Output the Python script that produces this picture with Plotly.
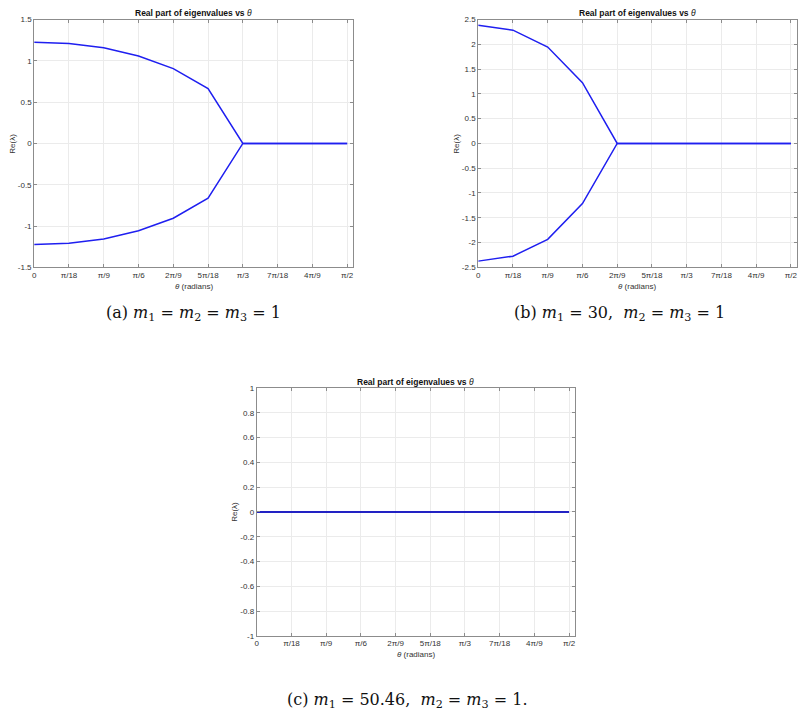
import numpy as np
import plotly.graph_objects as go

W, H = 805, 711

# theta grid (multiples of pi/18 from 0 to pi/2)
theta = [k * np.pi / 18 for k in range(10)]
tick_text = ["0", "π/18", "π/9", "π/6", "2π/9", "5π/18", "π/3", "7π/18", "4π/9", "π/2"]

# (a) m1 = m2 = m3 = 1
a_upper = [1.225, 1.208, 1.157, 1.058, 0.906, 0.663, 0.0, 0.0, 0.0, 0.0]
a_lower = [-1.225, -1.208, -1.157, -1.058, -0.906, -0.663, 0.0, 0.0, 0.0, 0.0]
# (b) m1 = 30, m2 = m3 = 1
b_upper = [2.385, 2.285, 1.945, 1.225, 0.0, 0.0, 0.0, 0.0, 0.0, 0.0]
b_lower = [-2.375, -2.275, -1.935, -1.215, 0.0, 0.0, 0.0, 0.0, 0.0, 0.0]
# (c) m1 = 50.46, m2 = m3 = 1
c_upper = [0.0] * 10
c_lower = [0.0] * 10

a_yticks = [-1.5, -1, -0.5, 0, 0.5, 1, 1.5]
a_ylabels = ["-1.5", "-1", "-0.5", "0", "0.5", "1", "1.5"]
b_yticks = [-2.5, -2, -1.5, -1, -0.5, 0, 0.5, 1, 1.5, 2, 2.5]
b_ylabels = ["-2.5", "-2", "-1.5", "-1", "-0.5", "0", "0.5", "1", "1.5", "2", "2.5"]
c_yticks = [-1, -0.8, -0.6, -0.4, -0.2, 0, 0.2, 0.4, 0.6, 0.8, 1]
c_ylabels = ["-1", "-0.8", "-0.6", "-0.4", "-0.2", "0", "0.2", "0.4", "0.6", "0.8", "1"]

captions = [
    "(a) <i>m</i><sub>1</sub> = <i>m</i><sub>2</sub> = <i>m</i><sub>3</sub> = 1",
    "(b) <i>m</i><sub>1</sub> = 30,  <i>m</i><sub>2</sub> = <i>m</i><sub>3</sub> = 1",
    "(c) <i>m</i><sub>1</sub> = 50.46,  <i>m</i><sub>2</sub> = <i>m</i><sub>3</sub> = 1.",
]

# pixel boxes of the three axes: left, right, top, bottom
boxes = [(32.3, 352.3, 15.7, 266.7), (478.0, 797.7, 15.7, 266.7), (255.7, 575.0, 389.0, 640.0)]
caption_pos = [(192, 313), (620, 313), (407, 705)]

SANS = "Liberation Sans, Arial, sans-serif"
SERIF = "DejaVu Serif, serif"
AX = "#8c8c8c"
LINE = "#1f1ff0"

fig = go.Figure()
layout = dict(width=W, height=H, margin=dict(l=0, r=0, t=0, b=0),
              paper_bgcolor="white", plot_bgcolor="white", showlegend=False)
annotations = []

data = [(a_upper, a_lower, a_yticks, a_ylabels, [-1.5, 1.5]),
        (b_upper, b_lower, b_yticks, b_ylabels, [-2.5, 2.5]),
        (c_upper, c_lower, c_yticks, c_ylabels, [-1, 1])]

for i, ((up, lo, yt, yl, yr), (l, r, t, b)) in enumerate(zip(data, boxes)):
    n = "" if i == 0 else str(i + 1)
    xa, ya = "x" + n, "y" + n
    col = LINE if i < 2 else "#1414c0"
    for ys in (up, lo):
        fig.add_trace(go.Scatter(x=theta, y=ys, mode="lines", xaxis=xa, yaxis=ya,
                                 line=dict(color=col, width=1.5), hoverinfo="skip"))
    fs = 8
    layout["xaxis" + n] = dict(domain=[l / W, r / W], anchor=ya, range=[0, 1.6],
                               tickvals=theta, ticktext=tick_text, ticks="inside", ticklen=3,
                               tickcolor=AX, showline=True, linecolor=AX, linewidth=1,
                               mirror="allticks", showgrid=True, gridcolor="#ebebeb",
                               gridwidth=1, zeroline=False,
                               tickfont=dict(family=SANS, size=fs, color="#333"))
    layout["yaxis" + n] = dict(domain=[1 - b / H, 1 - t / H], anchor=xa, range=yr,
                               tickvals=yt, ticktext=yl, ticks="inside", ticklen=3,
                               tickcolor=AX, showline=True, linecolor=AX, linewidth=1,
                               mirror="allticks", showgrid=True, gridcolor="#ebebeb",
                               gridwidth=1, zeroline=False,
                               tickfont=dict(family=SANS, size=fs, color="#333"))
    cx = (l + r) / 2
    annotations.append(dict(x=cx / W, y=1 - (t - 6.5) / H, xref="paper", yref="paper",
                            text="<b>Real part of eigenvalues vs </b><i>θ</i>",
                            showarrow=False, xanchor="center", yanchor="middle",
                            font=dict(family=SANS, size=8.5, color="#111")))
    annotations.append(dict(x=cx / W, y=1 - (b + 19) / H, xref="paper", yref="paper",
                            text="<i>θ</i> (radians)", showarrow=False,
                            xanchor="center", yanchor="middle",
                            font=dict(family=SANS, size=8, color="#333")))
    annotations.append(dict(x=(l - 22) / W, y=1 - ((t + b) / 2) / H, xref="paper", yref="paper",
                            text="Re(λ)", showarrow=False, textangle=-90,
                            xanchor="center", yanchor="middle",
                            font=dict(family=SANS, size=8, color="#333")))
    cxp, cyp = caption_pos[i]
    annotations.append(dict(x=cxp / W, y=1 - cyp / H, xref="paper", yref="paper",
                            text=captions[i], showarrow=False,
                            xanchor="center", yanchor="middle",
                            font=dict(family=SERIF, size=16, color="#111")))

layout["annotations"] = annotations
fig.update_layout(**layout)
fig.write_html("out.html")
